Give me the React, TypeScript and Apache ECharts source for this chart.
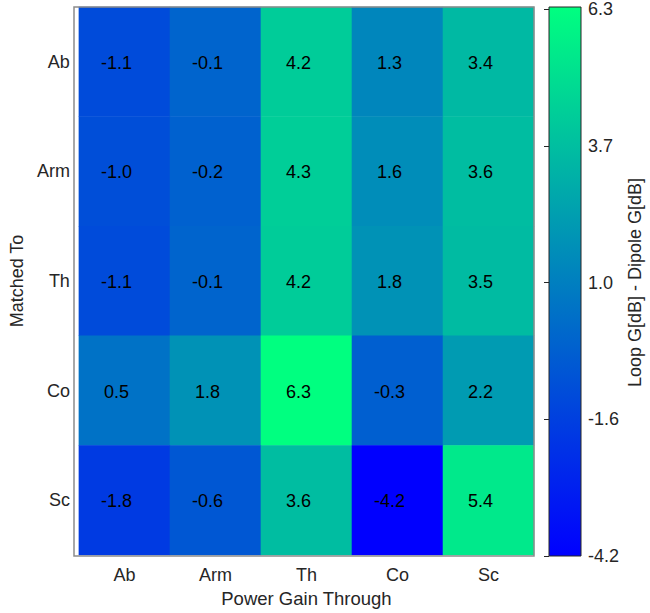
import React, { useEffect, useRef } from "react";
import * as echarts from "echarts";

const xCategories = ["Ab", "Arm", "Th", "Co", "Sc"];
const yCategories = ["Ab", "Arm", "Th", "Co", "Sc"];
const rowAb = [-1.1, -0.1, 4.2, 1.3, 3.4];
const rowArm = [-1.0, -0.2, 4.3, 1.6, 3.6];
const rowTh = [-1.1, -0.1, 4.2, 1.8, 3.5];
const rowCo = [0.5, 1.8, 6.3, -0.3, 2.2];
const rowSc = [-1.8, -0.6, 3.6, -4.2, 5.4];
const rows = [rowAb, rowArm, rowTh, rowCo, rowSc];
const cMin = -4.2;
const cMax = 6.3;
const cbTickValues = [-4.2, -1.575, 1.05, 3.675, 6.3];
const cbTickLabels = ["-4.2", "-1.6", "1.0", "3.7", "6.3"];

const FONT = "'Liberation Sans', Arial, Helvetica, sans-serif";
const FS = 18;

export default function App() {
  const ref = useRef<HTMLDivElement>(null);
  useEffect(() => {
    if (!ref.current) return;
    const chart = echarts.init(ref.current, null, { renderer: "svg" });
    const data: [number, number, number][] = [];
    rows.forEach((r, yi) => r.forEach((v, xi) => data.push([xi, yi, v])));
    const gl = 74, gt = 7, gw = 460, gh = 549;
    const cl = 549, cw = 32;
    chart.setOption({
      animation: false,
      textStyle: { fontFamily: FONT },
      grid: [
        { left: gl, top: gt, width: gw, height: gh, show: false },
        { left: cl, top: gt, width: cw, height: gh, show: false },
      ],
      xAxis: [
        {
          type: "category",
          gridIndex: 0,
          data: xCategories,
          axisLine: { show: false },
          axisTick: { show: false },
          axisLabel: { color: "#262626", fontSize: FS, margin: 11, fontFamily: FONT },
          name: "Power Gain Through",
          nameLocation: "middle",
          nameGap: 34,
          nameTextStyle: { color: "#262626", fontSize: FS + 0.5, fontFamily: FONT },
          splitLine: { show: false },
        },
        {
          type: "value",
          gridIndex: 1,
          show: false,
        },
      ],
      yAxis: [
        {
          type: "category",
          gridIndex: 0,
          data: yCategories,
          inverse: true,
          axisLine: { show: false },
          axisTick: { show: false },
          axisLabel: { color: "#262626", fontSize: FS, margin: 9, fontFamily: FONT },
          name: "Matched To",
          nameLocation: "middle",
          nameGap: 49,
          nameTextStyle: { color: "#262626", fontSize: FS, fontFamily: FONT },
          splitLine: { show: false },
        },
        {
          type: "value",
          gridIndex: 1,
          position: "right",
          min: cMin,
          max: cMax,
          axisLine: { show: false },
          splitLine: { show: false },
          axisTick: {
            show: true,
            inside: true,
            length: 5,
            customValues: cbTickValues,
            lineStyle: { color: "#262626", width: 1 },
          },
          axisLabel: {
            color: "#262626",
            fontSize: FS,
            margin: 7,
            fontFamily: FONT,
            customValues: cbTickValues,
            formatter: (v: number) => {
              const i = cbTickValues.findIndex((t) => Math.abs(t - v) < 1e-6);
              return i >= 0 ? cbTickLabels[i] : "";
            },
          },
          name: "Loop G[dB] - Dipole G[dB]",
          nameLocation: "middle",
          nameRotate: 90,
          nameGap: 45,
          nameTextStyle: { color: "#262626", fontSize: FS, fontFamily: FONT },
        },
      ],
      visualMap: {
        show: false,
        type: "continuous",
        min: cMin,
        max: cMax,
        seriesIndex: 0,
        dimension: 2,
        inRange: { color: ["#0000ff", "#00ff80"] },
      },
      graphic: [
        {
          type: "rect",
          z: 0,
          shape: { x: cl, y: gt, width: cw, height: gh },
          style: {
            fill: new echarts.graphic.LinearGradient(0, 0, 0, 1, [
              { offset: 0, color: "#00ff80" },
              { offset: 1, color: "#0000ff" },
            ]),
            stroke: "#262626",
            lineWidth: 1,
          },
        },
        {
          type: "rect",
          z: 10,
          shape: { x: gl, y: gt, width: gw, height: gh },
          style: { fill: "none", stroke: "#8c8c8c", lineWidth: 1.5 },
        },
      ],
      series: [
        {
          type: "heatmap",
          xAxisIndex: 0,
          yAxisIndex: 0,
          data,
          label: {
            show: true,
            color: "#000",
            fontSize: FS,
            fontFamily: FONT,
            offset: [-8, 1],
            formatter: (p: any) => p.value[2].toFixed(1),
          },
          itemStyle: { borderWidth: 0 },
          emphasis: { disabled: true },
        },
      ],
    });
    return () => chart.dispose();
  }, []);
  return (
    <div
      ref={ref}
      style={{ position: "absolute", left: 0, top: 0, width: 650, height: 613 }}
    />
  );
}
